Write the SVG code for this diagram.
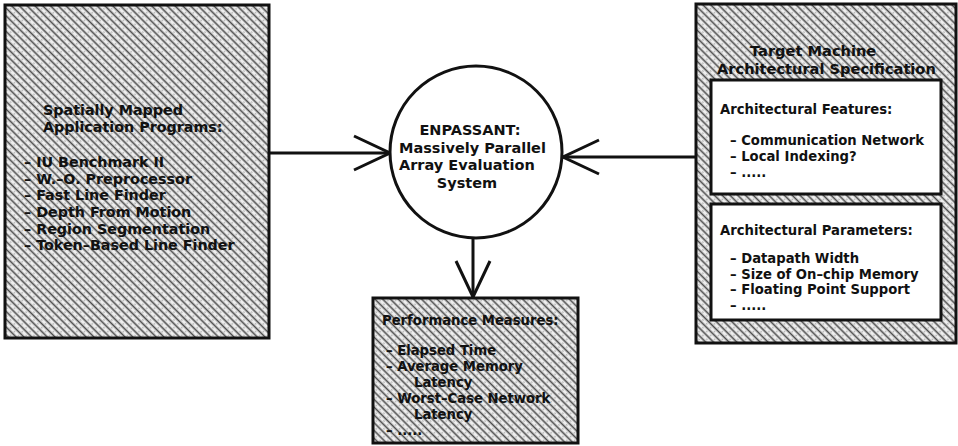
<svg xmlns="http://www.w3.org/2000/svg" width="958" height="446" viewBox="0 0 958 446">
  <style>
    .frame { fill: url(#hatch); stroke: #111; stroke-width: 3; }
    .panel { fill: #fff; stroke: #111; stroke-width: 3; }
    .hub { fill: #fff; stroke: #111; stroke-width: 3; }
    .wire { fill: none; stroke: #111; stroke-width: 3; marker-end: url(#vee); }
    text { font-family: "DejaVu Sans", "Liberation Sans", Arial, sans-serif; font-weight: bold; font-size: 13.2px; fill: #111; }
    .big { font-size: 14.3px; }
    .hub-label { font-size: 14.5px; }
    .head { font-size: 14.6px; }
  </style>
  <defs>
    <pattern id="hatch" width="5.5" height="5.5" patternUnits="userSpaceOnUse" patternTransform="rotate(45)">
      <rect width="5.5" height="5.5" fill="#eeeeee"/>
      <line x1="0" y1="1.4" x2="5.5" y2="1.4" stroke="#4a4a4a" stroke-width="1.6"/>
      <circle cx="2.75" cy="4.2" r="0.8" fill="#aaa"/>
    </pattern>
    <marker id="vee" viewBox="0 0 40 40" markerWidth="40" markerHeight="40" refX="38" refY="20" orient="auto" markerUnits="userSpaceOnUse">
      <path d="M 2 3 L 38 20 L 2 37" fill="none" stroke="#111" stroke-width="3" stroke-linejoin="miter"/>
    </marker>
  </defs>

  <!-- connectors -->
  <g id="connectors">
    <line class="wire" x1="270" y1="153" x2="390" y2="153"/>
    <line class="wire" x1="696" y1="157" x2="563" y2="157"/>
    <line class="wire" x1="473" y1="238" x2="473" y2="297"/>
  </g>

  <!-- application programs -->
  <g id="applications">
    <rect class="frame" x="5" y="5" width="264" height="333"/>
    <text class="big" x="43" y="115">Spatially Mapped</text>
    <text class="big" x="43" y="132">Application Programs:</text>
    <text class="big" x="24" y="167">– IU Benchmark II</text>
    <text class="big" x="24" y="184">– W.–O. Preprocessor</text>
    <text class="big" x="24" y="200">– Fast Line Finder</text>
    <text class="big" x="24" y="217">– Depth From Motion</text>
    <text class="big" x="24" y="234">– Region Segmentation</text>
    <text class="big" x="24" y="250">– Token–Based Line Finder</text>
  </g>

  <!-- evaluation system -->
  <g id="enpassant">
    <circle class="hub" cx="476" cy="152" r="86"/>
    <text class="hub-label" x="470" y="135" text-anchor="middle">ENPASSANT:</text>
    <text class="hub-label" x="399" y="153">Massively Parallel</text>
    <text class="hub-label" x="399" y="170">Array Evaluation</text>
    <text class="hub-label" x="467" y="188" text-anchor="middle">System</text>
  </g>

  <!-- target machine specification -->
  <g id="target-machine">
    <rect class="frame" x="696" y="4" width="260" height="339"/>
    <text class="head" x="750" y="56">Target Machine</text>
    <text class="head" x="717" y="74">Architectural Specification</text>
    <g id="features">
      <rect class="panel" x="711" y="80" width="230" height="114"/>
      <text x="720" y="114">Architectural Features:</text>
      <text x="730" y="145">– Communication Network</text>
      <text x="730" y="161">– Local Indexing?</text>
      <text x="730" y="177">– .....</text>
    </g>
    <g id="parameters">
      <rect class="panel" x="711" y="204" width="230" height="116"/>
      <text x="720" y="235">Architectural Parameters:</text>
      <text x="730" y="263">– Datapath Width</text>
      <text x="730" y="279">– Size of On–chip Memory</text>
      <text x="730" y="294">– Floating Point Support</text>
      <text x="730" y="310">– .....</text>
    </g>
  </g>

  <!-- performance measures -->
  <g id="performance">
    <rect class="frame" x="373" y="298" width="205" height="145"/>
    <text x="382" y="325">Performance Measures:</text>
    <text x="386" y="355">– Elapsed Time</text>
    <text x="386" y="371">– Average Memory</text>
    <text x="414" y="387">Latency</text>
    <text x="386" y="403">– Worst–Case Network</text>
    <text x="414" y="419">Latency</text>
    <text x="386" y="435">– .....</text>
  </g>
</svg>
